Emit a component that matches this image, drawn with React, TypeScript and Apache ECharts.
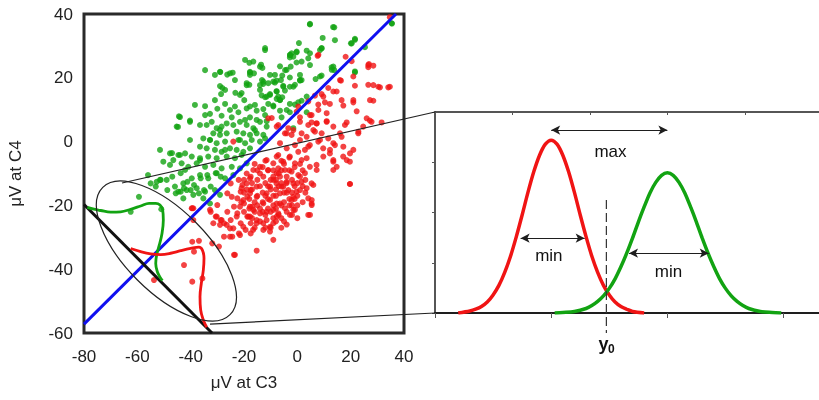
import React, { useEffect, useRef } from 'react';
import * as echarts from 'echarts';

// ---------- Left panel data (µV at C3, µV at C4) ----------
const greenPoints: number[][] = [
  [-12.1, 29.3], [-18, 24.7], [-13.6, 24.1], [-13.1, 23.1], [-28.9, 21.8], [-26.3, 21.0], [-24.25, 21.6],
  [-17.75, 21.6], [-16.25, 21.4], [-13.25, 19.3], [-12.75, 18.1], [-10.9, 18.3], [-8.4, 18.5], [-29, 17.4],
  [-28.1, 16.8], [-28.6, 14.9], [-23.25, 15.3], [-20.9, 15.2], [-19, 17.7], [-18, 17.8], [-14, 16.2],
  [-13.4, 14.5], [-12.1, 13.9], [-10.25, 14.9], [-34.6, 11.1], [-30, 10.3], [-27.1, 11.8], [-23.4, 11],
  [-19.9, 13], [-19, 10.4], [-17.75, 11], [-15.25, 9.7], [-12.75, 10.2], [-10.9, 11.8], [-9, 11.3],
  [-7.75, 13.4], [-44.4, 7.9], [-40.25, 6.6], [-32.75, 8.7], [-28.4, 8.1], [-24.6, 7.6], [-22.1, 9.2],
  [-17.75, 7.6], [-15.25, 6.8], [-11.5, 6.4],
  [4.7, 36.7], [13.85, 35.8], [35.35, 37.1], [9.5, 32.5], [0.6, 30.9], [-2.15, 27.7], [-2.8, 26.4],
  [-0.3, 28], [3.5, 28.5], [9.1, 29.3], [4.1, 26.1], [21.6, 32.2], [20.1, 30.8], [25.35, 29.6],
  [-6.5, 23.6], [-2.5, 23.5], [-0.3, 24.8], [12.85, 23.3], [13.85, 22.4], [21.6, 21.7], [-5.65, 20.7],
  [-6.15, 19.3], [-7.8, 19.1], [-2.8, 20.1], [1, 19.1], [-0.9, 17.8], [6.85, 19.6], [9.1, 20.7],
  [-5.3, 17.5], [-2.8, 17.2], [-7.8, 15.8], [-4.65, 16], [-7.15, 14.1], [-5.65, 13.9], [0.35, 12.3],
  [-0.9, 11.6], [-2.8, 11.8], [1.6, 12.8], [-6.5, 9.7], [-2.8, 9.2], [3.5, 9.2], [-5.9, 7.6],
  [-45.25, 4.7], [-40.25, 6.2], [-34, 5.2], [-32.1, 6.2], [-30.25, 4.2], [-28.4, 4.7], [-26.5, 5.7],
  [-24, 5.2], [-21.5, 6.2], [-19, 5.2], [-16.5, 4.2], [-14, 6.2], [-11.5, 4.7], [-31.5, 2.6], [-29, 2.1],
  [-26.5, 2.6], [-22.75, 3.1], [-20.25, 2.6], [-17.75, 2.1], [-15.25, 2.6], [-12.75, 2.1], [-35.25, 1.0],
  [-32.75, 0.5], [-30.25, -0.5], [-27.1, 0], [-22.1, 0.5], [-19.6, -0.5], [-17.1, 0.5], [-14, 0],
  [-12.1, 1.0], [-36.5, -1.6], [-34, -2.1], [-30.9, -2.6], [-28.4, -3.2], [-25.25, -2.1], [-22.75, -2.6],
  [-20.25, -3.2], [-17.75, -2.1], [-47.75, -3.7], [-44.6, -4.2], [-42.1, -3.7], [-39.6, -4.7],
  [-36.5, -5.2], [-33.4, -4.7], [-30.25, -5.2], [-26.5, -4.7], [-23.4, -5.2], [-20.9, -4.2],
  [-50.25, -6.3], [-46.5, -5.8], [-43.4, -6.8], [-40.9, -7.9], [-37.75, -6.8], [-34.6, -7.9],
  [-31.5, -7.3], [-28.4, -8.4], [-24.6, -7.9], [-21.5, -8.4], [-19, -6.8], [-52.75, -12.6], [-49, -12.0],
  [-45.9, -14.1], [-42.75, -13.1], [-39.6, -11.5], [-36.5, -10.5], [-33.4, -11.5], [-30.25, -9.9],
  [-27.1, -11.5], [-24, -10.5], [-44.6, -15.7], [-41.5, -15.2], [-37.75, -14.6], [-34.6, -15.7],
  [-30.9, -15.2], [-29, -16.7], [-42.75, -17.8], [-39, -16.7], [-35.25, -17.8], [-32.75, -19.4],
  [-55, -13.1], [-51.25, -12.0], [-46.9, -11], [-43.75, -9.9], [-41.25, -12.6], [-38.75, -13.6],
  [-36.25, -11.5], [-33.75, -10.5], [-30.6, -9.9], [-28.75, -11], [-42.5, -14.6], [-40, -15.2],
  [-36.9, -16.2], [-35, -15.2], [-32.5, -14.1], [-45.6, -16.2], [-48.75, -15.2], [-59.4, -17.3],
  [-62.5, -22], [-51, -21.2], [-43.75, -15.7], [-53.1, -14.1], [-56, -10.5], [-51.5, -12], [-47, -3.6],
  [-44, 7.7], [-44.75, 4.6], [4.75, 36.9], [13.4, 35.9], [20.4, 30.8], [21.6, 31.9], [13.5, 23.5],
  [12.9, 22.5], [21.6, 22], [9.1, 29.2], [8.5, 20.4], [4.75, 27.7], [-1.5, 26.6], [-0.25, 28.2],
  [-2.75, 27.2], [1.6, 25.1], [-4, 22.5], [1, 20.9], [1.6, 19.3], [-1.5, 17.2], [3.5, 14.1], [-1.5, 4.2],
  [35.5, 37], [-29, 21.9], [-25.25, 21.4], [-17.75, 21.9], [-16.5, 25.1], [-14, 23.5], [-19, 18.3],
  [-12.75, 18.8], [-10.25, 20.9], [-9, 18.8], [-7.75, 15.7], [-5.25, 17.2], [-11.5, 14.1], [-6.5, 13.04],
  [-9, 11], [-4, 9.9],
  [-38.4, 11.5], [-34.6, 8.3], [-30.9, 13], [-27.1, 16.2], [-25.25, 9.9], [-21.5, 14.6], [-19.6, 6.8],
  [-15.9, 11.5], [-14, 17.7], [-10.25, 14.6], [-8.4, 20.9], [-4.6, 22.4], [-2.75, 27.1], [-17.75, 20.9],
  [-23.4, 19.3], [-29, 3.6], [-32.75, 0.5], [-36.5, 5.2], [-40.25, 0.5], [-44, -4.2], [-47.75, -7.3],
  [-51.5, -2.6], [-42.1, -8.9], [-36.5, -5.8], [-27.1, -2.6], [-21.5, 0.5], [-15.9, 3.6], [-12.1, 8.3],
  [-6.5, 13], [1, 19.3], [4.75, 24], [8.5, 28.7], [14.1, 31.8], [-30.9, 20.9], [-34.6, 22.4],
  [-19.6, 25.6], [-12.1, 28.7]
];

const redPoints: number[][] = [
  [-9.6, 7.4], [34.7, 39], [7.6, 26.9], [18.1, 26.6], [20.35, 25.2], [26.85, 24.3], [28.5, 23.8],
  [26.6, 23.3], [16.35, 19.1], [11.6, 16.8], [9.1, 14.9], [6.6, 14.4], [10.35, 12.3], [14.75, 15.7],
  [21.6, 17.5], [26.6, 17.8], [30.35, 17.2], [34.7, 17.2], [4.1, 12.6], [0.35, 11], [7.85, 11.6],
  [12.2, 11.8], [16.6, 13], [17.25, 11.3], [21, 12.3], [28.5, 12.8], [22.25, 9.5], [27.2, 6.6], [1, 7.6],
  [5.35, 8.3], [5.35, 6], [11, 6.4], [18.5, 6], [31.6, 6],
  [-24, 0], [-39.6, -20.9], [-39, -24.6], [-32.75, -21.4], [-30.25, -23.5], [-28.4, -24.6],
  [-26.5, -26.1], [-22.75, -23.5], [-21.5, -20.4], [-24.6, -17.3], [-20.9, -14.6], [-19, -13.1],
  [-17.75, -11.5], [-20.25, -18.3], [-17.75, -20.4], [-17.75, -23.5], [-15.25, -25.6], [-14, -22.5],
  [-12.75, -19.4], [-11.5, -16.2], [-10.25, -14.1], [-9, -12.0], [-7.75, -9.9], [-15.25, -14.1],
  [-12.75, -11], [-16.5, -8.9], [-14, -7.9], [-10.9, -8.9], [-9, -6.8], [-7.75, -4.7], [-11.5, -5.8],
  [-17.75, -16.2], [-15.25, -17.3], [-10.25, -18.3], [-9, -21.4], [-7.75, -23.5], [-11.5, -24.6],
  [-10.25, -26.7], [-12.75, -27.7], [-20.25, -26.7], [-25.25, -27.2],
  [-7.15, 5.2], [-3.4, 4.2], [1, 6.2], [4.1, 5.2], [7.2, 5.7], [11, 6.2], [17.85, 5.2], [27.85, 6.2],
  [-4.65, 2.6], [-2.15, 2.1], [1.6, 2.6], [3.5, 1.5], [6.6, 3.1], [9.1, 2.6], [11.6, 1.0], [13.5, -0.5],
  [16.6, 1.5], [22.85, 2.6], [24.7, 4.7], [-6.5, -0.5], [-4, -2.1], [-0.9, -1.1], [0.35, -3.2],
  [2.85, -2.6], [4.7, -1.1], [7.85, 0], [9.7, -2.1], [12.2, -3.7], [14.1, -1.1], [17.2, -4.7], [21, -2.6],
  [19.7, -6.3], [13.5, -6.3], [-7.15, -4.2], [-5.3, -6.3], [-2.8, -4.7], [-0.9, -6.8], [1.6, -5.8],
  [3.5, -5.2], [4.7, -7.9], [7.2, -7.3], [-7.15, -8.4], [-4.65, -8.9], [-2.15, -9.4], [0.35, -10.5],
  [2.85, -9.9], [-6.5, -11], [-4, -12.6], [-1.5, -13.1], [1.6, -12.6], [-7.8, -13.1], [-5.9, -14.1],
  [-3.4, -15.2], [-0.3, -15.7], [-6.5, -16.2], [3.5, -14.6], [5.35, -13.1], [19.7, -13.3], [-2.15, -18.3],
  [-6.5, -19.4], [-4.65, -20.9], [-0.9, -21.4], [4.1, -17.8], [5.35, -19.4], [4.1, -23], [-7.15, -22.5],
  [-39.4, -20.9], [-32.5, -22], [-30.6, -23.5], [-28.75, -24.6], [-27.5, -25.6], [-25, -24.6],
  [-22.5, -22.5], [-21.25, -25.6], [-18.75, -23.5], [-17.5, -25.6], [-16.9, -20.4], [-20, -19.4],
  [-23.75, -20.4], [-26.25, -22], [-30, -19.9], [-24.4, -29.8], [-21.9, -28.8], [-19.4, -27.7],
  [-17.5, -28.8], [-23.75, -35.5], [-29.4, -32.9], [-31.9, -31.9], [-36.9, -31.1], [-39.4, -31.4],
  [-38.75, -34.5], [-42.5, -38.7], [-39.4, -43.9], [-35.6, -42.9], [-53.75, -43.4], [-27.5, -29.8],
  [-20, -12.0], [-25, -13.1], [-17.5, -15.2], [-18.75, -17.3], [-21.25, -15.7], [-22.5, -17.8],
  [-26.25, -16.2], [-17.5, -11], [-20.6, -13.6], [19.75, -13.3], [-15.25, -34.2], [-23.4, -35.5],
  [-9, -30.8], [-25.25, -29.8], [-21.5, -29.3], [-16.6, -27.7], [-10.25, -28.2], [-12.75, -25.6],
  [-9, -25.6], [-15.25, -24.6], [-18.4, -23.5], [-11.5, -22], [-16.5, -21.4], [-2.75, -23], [-1.5, -21.4],
  [4.75, -23], [5.4, -18.3], [5.4, -19.9], [6, -13.6], [-1.5, -17.3], [1, -15.2], [-5.25, -14.1],
  [-7.75, -19.4], [-24, -27.2], [-31.5, -25.6], [-29, -26.1], [-39, -20.9],
  [-14, -10], [-12, -13], [-10, -15], [-8, -17], [-6, -9], [-4, -11], [-2, -12], [-13, -16], [-11, -18],
  [-9, -20], [-7, -14], [-5, -16], [-3, -18], [-1, -14], [0, -17], [-15, -12], [-16, -19], [-14, -21],
  [-12, -23], [-10, -22], [-8, -12], [-6, -20], [-4, -13], [-2, -16], [1, -11], [2, -19], [-17, -15],
  [-13, -19], [-9, -11], [-7, -23], [-5, -25], [-3, -9], [-11, -9], [-15, -17], [-12, -6], [-6, -6],
  [-1, -8], [3, -12], [-8, -25], [-14, -25], [-18, -18], [-16, -22], [-10, -27], [-4, -22], [-19, -10],
  [-20, -16], [-21, -19], [-22, -12], [-2, -20], [0, -24],
  [-10.9, 7.3], [-7.75, 4.7], [-4, 2.6], [-1.5, 3.6], [1, 0.5], [4.1, -1.6], [6, 3.6], [8.5, 0.5],
  [7.25, 5.7], [11, 8.9], [13.5, 4.7], [16, 2.6], [17.25, -1.6], [19.75, -3.7], [18.5, -5.8],
  [13.5, -5.8], [26, 7.3], [22.9, 3.1], [14.75, -7.9], [13.5, -8.9], [7.25, -8.9], [9.75, -4.7],
  [12.25, -2.6], [21, 13], [27.25, 13], [31, 17], [34.1, 17], [26.6, 24], [28.5, 17.7], [13.5, 15.7],
  [16, 19.3], [21, 20.4], [9.75, 14.1], [7.9, 9.9], [4.75, 8.3], [-0.25, 9.4], [7.9, 27.2],
  [-16, -7], [-13, -8], [-9, -9], [-5, -7], [-3, -5], [1, -7], [2, -14], [3, -16], [0, -20], [-2, -23],
  [-6, -24], [-9, -24], [-11, -21], [-13, -22], [-15, -20], [-17, -13], [-18, -21], [-14, -14], [-12, -17],
  [-10, -12], [-8, -15], [-6, -13], [-4, -16], [-3, -20], [-1, -18], [-7, -10], [-5, -19], [-11, -14],
  [-9, -17], [-15, -9], [-19, -15], [-20, -22], [-17, -24], [-8, -21], [-4, -26], [0, -13], [2, -9],
  [-12, -27], [-16, -27], [-6, -27]
];

const blueLine: number[][] = [[-80, -57.2], [37, 40]];
const projectionAxis: number[][] = [[-80, -19.7], [-32, -60]];
const greenProjection: number[][] = [
  [-78.75, -20.6], [-76.25, -21.2], [-73.75, -21.6], [-70, -22.1], [-66.25, -22.0], [-62.5, -21.2],
  [-58.75, -20.2], [-55.6, -19.35], [-53.1, -19.35], [-51.5, -19.9], [-50.5, -21.4], [-50.25, -24.6],
  [-50.75, -28.8], [-51.75, -32.4], [-52.75, -35.5], [-53.1, -38.2], [-52.5, -40.8], [-51.5, -42.5],
  [-50.6, -43.6]
];
const redProjection: number[][] = [
  [-62.5, -33.5], [-58.75, -34.5], [-55, -35.2], [-51.25, -35.4], [-47.5, -35.0], [-43.75, -34.2],
  [-40, -33.5], [-36.9, -33.1], [-35.6, -34.0], [-35, -36.6], [-35.25, -40.3], [-36, -44.4],
  [-36.5, -48.6], [-36.25, -52.8], [-35.25, -55.9], [-34, -58.2]
];
const ellipseCenter = [-49.1, -34.3];
const zoomTopStart = [-65.75, -12.98];
const zoomBottomStart = [-32.75, -57.2];

// ---------- Right panel data (projected value y, density) ----------
const redDistribution: number[][] = [
  [0.2, 0], [0.3, 0.04], [0.35, 0.075], [0.4, 0.13], [0.45, 0.22], [0.5, 0.36], [0.55, 0.55],
  [0.6, 0.81], [0.65, 1.13], [0.7, 1.52], [0.75, 1.95], [0.8, 2.40], [0.85, 2.81], [0.9, 3.14], [0.95, 3.36],
  [1.0, 3.44], [1.05, 3.36], [1.1, 3.14], [1.15, 2.81], [1.2, 2.40], [1.25, 1.95], [1.3, 1.52], [1.35, 1.13],
  [1.4, 0.81], [1.45, 0.55], [1.5, 0.36], [1.55, 0.22], [1.6, 0.13], [1.65, 0.075], [1.7, 0.03], [1.8, 0]
];
const greenDistribution: number[][] = [
  [1.03, 0], [1.1, 0.01], [1.2, 0.03], [1.3, 0.09], [1.35, 0.15], [1.4, 0.23], [1.45, 0.34], [1.5, 0.49],
  [1.55, 0.68], [1.6, 0.92], [1.65, 1.19], [1.7, 1.49], [1.75, 1.81], [1.8, 2.11], [1.85, 2.39], [1.9, 2.60],
  [1.95, 2.74], [2.0, 2.79], [2.05, 2.74], [2.1, 2.60], [2.15, 2.39], [2.2, 2.11], [2.25, 1.81], [2.3, 1.49],
  [2.35, 1.19], [2.4, 0.92], [2.45, 0.68], [2.5, 0.49], [2.55, 0.34], [2.6, 0.23], [2.65, 0.15], [2.7, 0.09],
  [2.8, 0.03], [2.9, 0.01], [2.98, 0]
];
const maxArrow = [[1.0, 3.64], [2.0, 3.64]];
const redMinArrow = [[0.737, 1.49], [1.288, 1.49]];
const greenMinArrow = [[1.67, 1.19], [2.356, 1.19]];
const threshold = 1.475;
const thresholdSpan = [2.25, -0.4];
const maxLabelPos = [1.51, 3.22];
const redMinLabelPos = [0.98, 1.15];
const greenMinLabelPos = [2.01, 0.82];

const FONT = '"Liberation Sans", Arial, sans-serif';
const GREEN = '#12a312';
const RED = '#f01414';
const BLUE = '#1010f0';
const INK = '#1e1e1e';

export default function App() {
  const ref = useRef<HTMLDivElement>(null);
  useEffect(() => {
    if (!ref.current) return;
    const chart = echarts.init(ref.current, undefined, { renderer: 'svg' });
    const arrowLine = (pts: number[][]) => [{ coord: pts[0] }, { coord: pts[1] }];
    chart.setOption({
      animation: false,
      textStyle: { fontFamily: FONT },
      grid: [
        { left: 84, top: 14, width: 320, height: 319, show: true, borderColor: '#2a2a2a', borderWidth: 3, backgroundColor: 'transparent' },
        { left: 435, top: 112, width: 390, height: 201 }
      ],
      xAxis: [
        {
          gridIndex: 0, type: 'value', min: -80, max: 40, interval: 20,
          axisLine: { show: false }, axisTick: { show: false }, splitLine: { show: false },
          axisLabel: { fontSize: 17, color: '#222', margin: 15, fontFamily: FONT },
          name: 'μV at C3', nameLocation: 'middle', nameGap: 41,
          nameTextStyle: { fontSize: 17, color: '#222', fontFamily: FONT }
        },
        {
          gridIndex: 1, type: 'value', min: 0, max: 3.305, interval: 1,
          axisLine: { show: true, lineStyle: { color: INK, width: 2 } },
          axisTick: { show: true, inside: false, length: 5, lineStyle: { color: '#555', width: 1 } },
          axisLabel: { show: false }, splitLine: { show: false }
        },
        {
          gridIndex: 1, type: 'value', position: 'top', min: 0, max: 3.305, interval: 2 / 3,
          axisLine: { show: true, lineStyle: { color: INK, width: 1.5 } },
          axisTick: { show: true, inside: true, length: 3, lineStyle: { color: '#555', width: 1 } },
          axisLabel: { show: false }, splitLine: { show: false }
        }
      ],
      yAxis: [
        {
          gridIndex: 0, type: 'value', min: -60, max: 40, interval: 20,
          axisLine: { show: false }, axisTick: { show: false }, splitLine: { show: false },
          axisLabel: { fontSize: 17, color: '#222', margin: 11, fontFamily: FONT },
          name: 'μV at C4', nameLocation: 'middle', nameGap: 60, nameRotate: 90,
          nameTextStyle: { fontSize: 17, color: '#222', fontFamily: FONT }
        },
        {
          gridIndex: 1, type: 'value', min: 0, max: 4, interval: 1,
          axisLine: { show: true, lineStyle: { color: INK, width: 1.5 } },
          axisTick: { show: true, inside: false, length: 3, lineStyle: { color: '#555', width: 1 } },
          axisLabel: { show: false }, splitLine: { show: false }
        }
      ],
      series: [
        { type: 'scatter', xAxisIndex: 0, yAxisIndex: 0, data: greenPoints, symbolSize: 6, itemStyle: { color: GREEN }, z: 2 },
        { type: 'scatter', xAxisIndex: 0, yAxisIndex: 0, data: redPoints, symbolSize: 6, itemStyle: { color: RED }, z: 2 },
        { type: 'line', xAxisIndex: 0, yAxisIndex: 0, data: blueLine, symbol: 'none', lineStyle: { color: BLUE, width: 3 }, z: 4 },
        { type: 'line', xAxisIndex: 0, yAxisIndex: 0, data: projectionAxis, symbol: 'none', lineStyle: { color: '#111', width: 3 }, z: 4 },
        { type: 'line', xAxisIndex: 0, yAxisIndex: 0, data: greenProjection, symbol: 'none', smooth: 0.4, lineStyle: { color: GREEN, width: 2.8 }, z: 5 },
        { type: 'line', xAxisIndex: 0, yAxisIndex: 0, data: redProjection, symbol: 'none', smooth: 0.4, lineStyle: { color: RED, width: 2.8 }, z: 5 },
        { type: 'line', xAxisIndex: 1, yAxisIndex: 1, data: redDistribution, symbol: 'none', smooth: 0.3, lineStyle: { color: RED, width: 3.5 }, z: 4 },
        { type: 'line', xAxisIndex: 1, yAxisIndex: 1, data: greenDistribution, symbol: 'none', smooth: 0.3, lineStyle: { color: GREEN, width: 3.5 }, z: 4 },
        {
          type: 'line', xAxisIndex: 1, yAxisIndex: 1, data: [], clip: false, z: 6,
          markLine: {
            silent: true, symbol: ['arrow', 'arrow'], symbolSize: [7, 9],
            label: { show: false },
            lineStyle: { color: INK, width: 1.2, type: 'solid' },
            data: [arrowLine(maxArrow), arrowLine(redMinArrow), arrowLine(greenMinArrow)]
          }
        }
      ]
    });

    const L = (v: number[]) => chart.convertToPixel({ xAxisIndex: 0, yAxisIndex: 0 }, v) as number[];
    const R = (v: number[]) => chart.convertToPixel({ xAxisIndex: 1, yAxisIndex: 1 }, v) as number[];
    const c = L(ellipseCenter);
    const t0 = L(zoomTopStart);
    const t1 = R([0, 4]);
    const b0 = L(zoomBottomStart);
    const b1 = R([0, 0]);
    const mx = R(maxLabelPos);
    const m1 = R(redMinLabelPos);
    const m2 = R(greenMinLabelPos);
    const d0 = R([threshold, thresholdSpan[0]]);
    const d1 = R([threshold, thresholdSpan[1]]);
    const y0 = R([threshold, 0]);
    const textStyle = { fontSize: 17, fill: '#111', fontFamily: FONT, align: 'center', verticalAlign: 'middle' };
    chart.setOption({
      graphic: [
        { type: 'ellipse', x: c[0], y: c[1], rotation: -Math.PI / 4, shape: { cx: 0, cy: 0, rx: 90, ry: 41 }, style: { fill: 'none', stroke: '#222', lineWidth: 1.2 }, z: 10 },
        { type: 'line', shape: { x1: t0[0], y1: t0[1], x2: t1[0], y2: t1[1] }, style: { stroke: '#222', lineWidth: 1.2 }, z: 10 },
        { type: 'line', shape: { x1: b0[0], y1: b0[1], x2: b1[0], y2: b1[1] }, style: { stroke: '#222', lineWidth: 1.2 }, z: 10 },
        { type: 'line', shape: { x1: d0[0], y1: d0[1], x2: d1[0], y2: d1[1] }, style: { stroke: '#333', lineWidth: 1.2, lineDash: [9, 4] }, z: 10 },
        { type: 'text', x: mx[0], y: mx[1], style: { ...textStyle, text: 'max' }, z: 10 },
        { type: 'text', x: m1[0], y: m1[1], style: { ...textStyle, text: 'min' }, z: 10 },
        { type: 'text', x: m2[0], y: m2[1], style: { ...textStyle, text: 'min' }, z: 10 },
        { type: 'text', x: y0[0] - 3, y: y0[1] + 31, style: { ...textStyle, text: 'y', fontWeight: 'bold', fontSize: 18 }, z: 10 },
        { type: 'text', x: y0[0] + 5, y: y0[1] + 36, style: { ...textStyle, text: '0', fontWeight: 'bold', fontSize: 12 }, z: 10 }
      ]
    });
    return () => chart.dispose();
  }, []);
  return <div ref={ref} style={{ position: 'fixed', left: 0, top: 0, width: 819, height: 400 }} />;
}
